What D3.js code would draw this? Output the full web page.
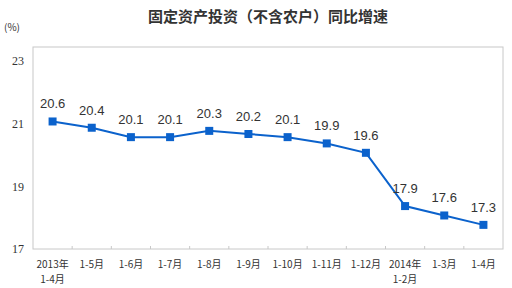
<!DOCTYPE html>
<html>
<head>
<meta charset="utf-8">
<script src="https://cdn.jsdelivr.net/npm/d3@7"></script>
<style>
  body { margin: 0; background: #fff; }
  text { fill: #333; }
</style>
</head>
<body>
<div id="container"></div>
<script>
const categories = ["2013年\n1-4月", "1-5月", "1-6月", "1-7月", "1-8月", "1-9月", "1-10月", "1-11月", "1-12月", "2014年\n1-2月", "1-3月", "1-4月"];
const growth = [20.6, 20.4, 20.1, 20.1, 20.3, 20.2, 20.1, 19.9, 19.6, 17.9, 17.6, 17.3];
const yTickLabels = [17, 19, 21, 23];
// the original axis labels sit about half a point above the plotted values
const axisShift = 0.47;

function main() {
    const width = 512, height = 288;
    const margin = { left: 33, right: 9, top: 47, bottom: 39 };
    const svg = d3.select("#container")
        .append("svg")
        .attr("width", width)
        .attr("height", height);

    svg.append("text")
        .attr("x", 268)
        .attr("y", 22)
        .attr("text-anchor", "middle")
        .attr("font-family", "Noto Sans CJK SC")
        .attr("font-weight", "bold")
        .attr("font-size", 15)
        .text("固定资产投资（不含农户）同比增速");

    svg.append("text")
        .attr("x", 4)
        .attr("y", 31)
        .attr("font-family", "Noto Sans CJK SC")
        .attr("font-size", 10)
        .attr("fill", "#555")
        .text("(%)");

    const x = d3.scaleBand()
        .domain(categories)
        .range([margin.left, width - margin.right]);

    const y = d3.scaleLinear()
        .domain([17 - axisShift, 23 - axisShift])
        .range([249, 61]);

    // frame
    svg.append("rect")
        .attr("x", margin.left)
        .attr("y", margin.top)
        .attr("width", width - margin.left - margin.right)
        .attr("height", height - margin.bottom - margin.top)
        .attr("fill", "none")
        .attr("stroke", "#c8c8c8");

    // y axis labels
    svg.append("g")
        .attr("transform", `translate(${margin.left},0)`)
        .call(d3.axisLeft(y)
            .tickValues(yTickLabels.map(t => t - axisShift))
            .tickFormat((d, i) => yTickLabels[i])
            .tickSize(0)
            .tickPadding(9))
        .call(g => g.select(".domain").remove())
        .selectAll("text")
        .attr("font-family", "Liberation Serif")
        .attr("font-size", 12)
        .attr("fill", "#333");

    // x axis ticks
    const xAxis = svg.append("g")
        .attr("transform", `translate(0,${height - margin.bottom})`);
    xAxis.selectAll("line")
        .data(categories.slice(1))
        .join("line")
        .attr("x1", d => x(d))
        .attr("x2", d => x(d))
        .attr("y1", 0)
        .attr("y2", -3)
        .attr("stroke", "#c8c8c8");

    const xl = xAxis.selectAll("text")
        .data(categories)
        .join("text")
        .attr("text-anchor", "middle")
        .attr("font-family", "Noto Sans CJK SC")
        .attr("font-size", 10)
        .attr("fill", "#333")
        .attr("transform", d => `translate(${x(d) + x.bandwidth() / 2},19)`);
    xl.selectAll("tspan")
        .data(d => d.split("\n"))
        .join("tspan")
        .attr("x", 0)
        .attr("dy", (d, i) => i == 0 ? 0 : 15)
        .text(d => d);

    const cx = (d, i) => x(categories[i]) + x.bandwidth() / 2;

    svg.append("path")
        .datum(growth)
        .attr("fill", "none")
        .attr("stroke", "#0b62cc")
        .attr("stroke-width", 2)
        .attr("d", d3.line().x(cx).y(d => y(d)));

    svg.append("g")
        .selectAll("rect")
        .data(growth)
        .join("rect")
        .attr("x", (d, i) => cx(d, i) - 4)
        .attr("y", d => y(d) - 4)
        .attr("width", 8)
        .attr("height", 8)
        .attr("fill", "#0b62cc");

    svg.append("g")
        .selectAll("text")
        .data(growth)
        .join("text")
        .attr("x", cx)
        .attr("y", d => y(d) - 13)
        .attr("text-anchor", "middle")
        .attr("font-family", "Liberation Sans")
        .attr("font-size", 13)
        .attr("fill", "#3a3a3a")
        .text(d => d.toFixed(1));
}
main();
</script>
</body>
</html>
